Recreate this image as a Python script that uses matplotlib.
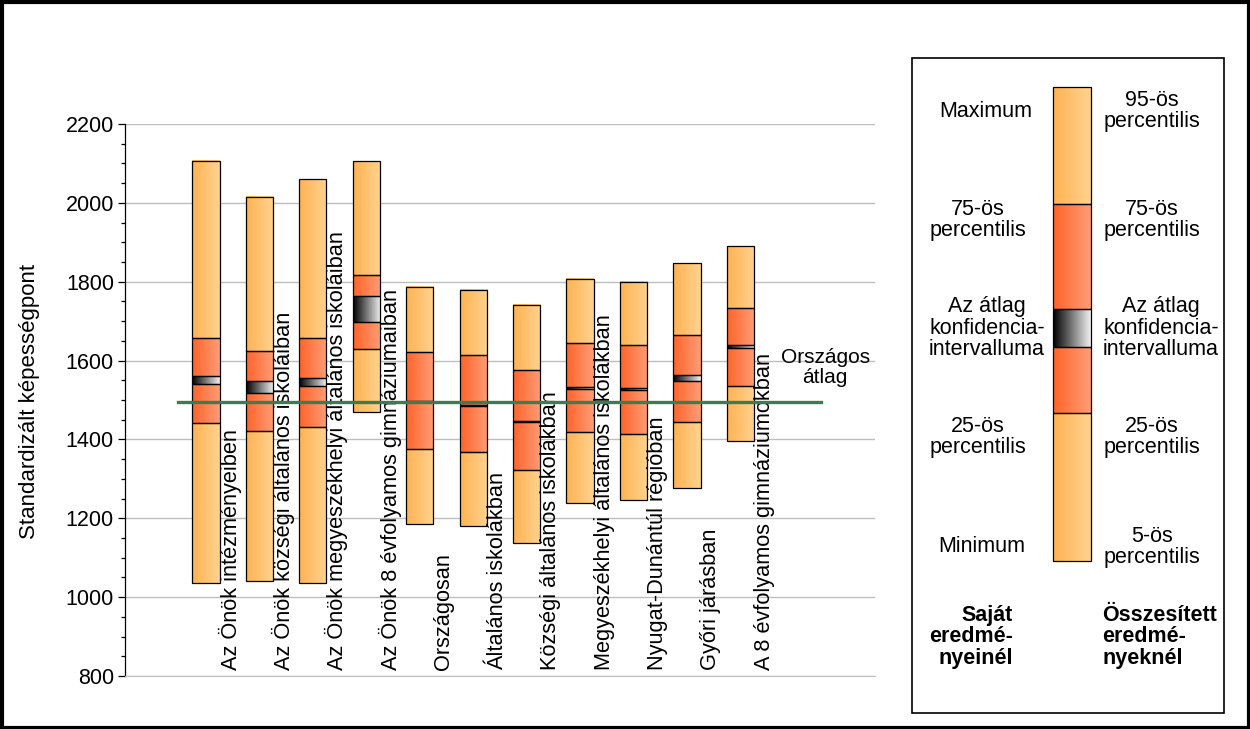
import numpy as np
import matplotlib
matplotlib.use("Agg")
import matplotlib.pyplot as plt
from matplotlib.colors import LinearSegmentedColormap
from matplotlib.patches import Rectangle
from matplotlib.ticker import MultipleLocator

plt.rcParams['font.family'] = ['Liberation Sans', 'DejaVu Sans']

# categories (x axis labels)
categories = [
    "Az Önök intézményeiben",
    "Az Önök községi általános iskoláiban",
    "Az Önök megyeszékhelyi általános iskoláiban",
    "Az Önök 8 évfolyamos gimnáziumaiban",
    "Országosan",
    "Általános iskolákban",
    "Községi általános iskolákban",
    "Megyeszékhelyi általános iskolákban",
    "Nyugat-Dunántúl régióban",
    "Győri járásban",
    "A 8 évfolyamos gimnáziumokban",
]

# box values
lows = [1035, 1040, 1035, 1469, 1185, 1180, 1137, 1238, 1246, 1276, 1395]
q25 = [1441, 1421, 1431, 1629, 1375, 1368, 1322, 1418, 1415, 1444, 1535]
ci_low = [1540, 1517, 1535, 1698, 1495, 1486, 1445, 1527, 1525, 1548, 1631]
ci_high = [1560, 1548, 1555, 1763, 1497, 1488, 1447, 1533, 1530, 1563, 1639]
q75 = [1657, 1624, 1657, 1817, 1621, 1613, 1576, 1644, 1639, 1665, 1733]
highs = [2106, 2015, 2060, 2106, 1786, 1778, 1741, 1807, 1799, 1847, 1890]

national_avg = 1495

light_cmap = LinearSegmentedColormap.from_list('light', ['#FFB252', '#FFD38F'])
red_cmap = LinearSegmentedColormap.from_list('red', ['#FF6329', '#FF9D76'])
ci_cmap = LinearSegmentedColormap.from_list('ci', ['#000000', '#F2F2F2'])
grad = np.linspace(0, 1, 128).reshape(1, -1)


def grad_rect(ax, x0, x1, y0, y1, cmap, z=2):
    ax.imshow(grad, cmap=cmap, extent=(x0, x1, y0, y1), aspect='auto',
              interpolation='bilinear', zorder=z)
    ax.add_patch(Rectangle((x0, min(y0, y1)), x1 - x0, abs(y1 - y0), fill=False,
                           ec='black', lw=0.9, zorder=z + 0.1))


fig = plt.figure(figsize=(12.5, 7.29), dpi=100)
ax = fig.add_axes([125 / 1250, 53 / 729, 750 / 1250, 552 / 729])

w = 0.51
for i in range(len(categories)):
    x0, x1 = i - w / 2, i + w / 2
    grad_rect(ax, x0, x1, lows[i], q25[i], light_cmap)
    grad_rect(ax, x0, x1, q25[i], ci_low[i], red_cmap)
    grad_rect(ax, x0, x1, ci_low[i], ci_high[i], ci_cmap)
    grad_rect(ax, x0, x1, ci_high[i], q75[i], red_cmap)
    grad_rect(ax, x0, x1, q75[i], highs[i], light_cmap)
    ax.text(i + 0.45, 814, categories[i], rotation=90, ha='center', va='bottom',
            fontsize=15.7, zorder=5)

ax.plot([-0.52, 11.51], [national_avg, national_avg], color='#3A7D50', lw=2.4, zorder=6)
ax.text(11.59, 1583, "Országos\nátlag", ha='center', va='center', fontsize=15,
        linespacing=1.05, zorder=5)

ax.set_xlim(-1.515, 12.52)
ax.set_ylim(800, 2200)
ax.yaxis.set_major_locator(MultipleLocator(200))
ax.yaxis.set_minor_locator(MultipleLocator(50))
ax.grid(axis='y', color='#BDBDBD', lw=1)
ax.set_axisbelow(True)
ax.set_xticks([])
for s in ['top', 'right']:
    ax.spines[s].set_visible(False)
ax.spines['bottom'].set_color('#BDBDBD')
ax.spines['left'].set_linewidth(0.9)
ax.tick_params(axis='y', which='major', length=5, width=0.9, labelsize=15.5, pad=3)
ax.tick_params(axis='y', which='minor', length=3, width=0.9)

fig.text(30 / 1250, 1 - 401 / 729, "Standardizált képességpont", rotation=90,
         ha='center', va='center', fontsize=16)

# overlay in pixel coordinates for the legend panel and frame
lg = fig.add_axes([0, 0, 1, 1])
lg.set_xlim(0, 1250)
lg.set_ylim(729, 0)
lg.axis('off')
lg.patch.set_alpha(0)

lg.add_patch(Rectangle((912, 58), 312, 655, fill=False, ec='black', lw=1.2))
bx0, bx1 = 1053, 1091
grad_rect(lg, bx0, bx1, 561, 413, light_cmap)
grad_rect(lg, bx0, bx1, 413, 347, red_cmap)
grad_rect(lg, bx0, bx1, 347, 309, ci_cmap)
grad_rect(lg, bx0, bx1, 309, 204, red_cmap)
grad_rect(lg, bx0, bx1, 204, 87, light_cmap)
lg.set_xlim(0, 1250)
lg.set_ylim(729, 0)

left_labels = [("Maximum", 986, 111), ("75-ös\npercentilis", 978, 220),
               ("Az átlag\nkonfidencia-\nintervalluma", 987, 328),
               ("25-ös\npercentilis", 978, 437), ("Minimum", 982, 547)]
right_labels = [("95-ös\npercentilis", 1152, 111), ("75-ös\npercentilis", 1152, 220),
                ("Az átlag\nkonfidencia-\nintervalluma", 1161, 328),
                ("25-ös\npercentilis", 1152, 437), ("5-ös\npercentilis", 1152, 547)]
for txt, x, y in left_labels + right_labels:
    lg.text(x, y, txt, ha='center', va='center', fontsize=15.5, linespacing=1.05)

lg.text(1013, 637, "Saját\neredmé-\nnyeinél", ha='right', va='center', fontsize=15.5,
        fontweight='bold', multialignment='right', linespacing=1.05)
lg.text(1102, 637, "Összesített\neredmé-\nnyeknél", ha='left', va='center', fontsize=15.5,
        fontweight='bold', multialignment='left', linespacing=1.05)

# outer frame
lg.add_patch(Rectangle((1.5, 1.5), 1247, 726, fill=False, ec='black', lw=3))

fig.savefig("out.png", dpi=100)
